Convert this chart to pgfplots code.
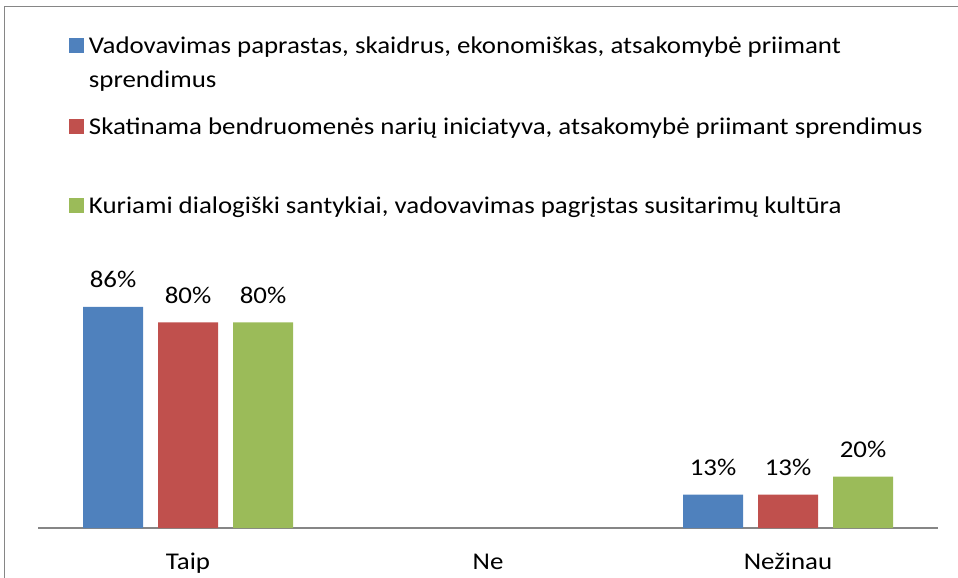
\documentclass[border=0pt]{standalone}
\usepackage{pgfplots}
\pgfplotsset{compat=1.18}
\usepackage{fontspec}
\setmainfont[FakeStretch=1.12]{Carlito}
\definecolor{cblue}{HTML}{4F81BD}
\definecolor{cred}{HTML}{C0504D}
\definecolor{cgreen}{HTML}{9BBB59}
\definecolor{framec}{HTML}{868686}
\newcommand{\fs}{\fontsize{12pt}{14pt}\selectfont}
\begin{document}
\fs
\begin{tikzpicture}
\useasboundingbox (0,0) rectangle (479pt,289pt);
\draw[framec, line width=0.75pt] (2.25pt,0) -- (2.25pt,285.75pt) -- (479pt,285.75pt);
\begin{axis}[
  at={(19pt,25pt)}, anchor=south west,
  scale only axis, width=450pt, height=128.5pt,
  xmin=-0.5, xmax=2.5, ymin=0, ymax=100,
  axis x line*=bottom, axis y line=none,
  x axis line style={framec, line width=0.75pt},
  xtick={0,1,2}, xticklabels={Taip,Ne,Nežinau},
  major tick length=0pt,
  xticklabel style={anchor=base, yshift=-20.5pt, font=\fs, text=black},
  clip=false,
  nodes near coords={\pgfmathprintnumber{\pgfplotspointmeta}\%},
  every node near coord/.append style={anchor=base, yshift=9.5pt, font=\fs, text=black},
  /pgf/number format/assume math mode=true,
  legend style={at={(0.0344,1.926)}, anchor=north west, draw=none, fill=none,
    inner sep=0pt, outer sep=0pt, row sep=0pt, column sep=2.5pt,
    cells={anchor=base west}, nodes={inner sep=0pt, text depth=0pt, font=\fs, text=black}},
]
\addplot[ybar, bar width=30pt, bar shift=0pt, fill=cblue, draw=none,
  legend image code/.code={\fill[cblue] (0pt,0pt) rectangle (7.5pt,7.5pt);}]
  coordinates {(-0.25,86) (1.75,13)};
\addlegendentry{\rule{0pt}{10pt}Vadovavimas paprastas, skaidrus, ekonomiškas, atsakomybė priimant}
\addlegendimage{empty legend}
\addlegendentry{\rule{0pt}{17pt}sprendimus}
\addplot[ybar, bar width=30pt, bar shift=0pt, fill=cred, draw=none,
  legend image code/.code={\fill[cred] (0pt,0pt) rectangle (7.5pt,7.5pt);}]
  coordinates {(0,80) (2,13)};
\addlegendentry{\rule{0pt}{23.5pt}Skatinama bendruomenės narių iniciatyva, atsakomybė priimant sprendimus}
\addplot[ybar, bar width=30pt, bar shift=0pt, fill=cgreen, draw=none,
  legend image code/.code={\fill[cgreen] (0pt,0pt) rectangle (7.5pt,7.5pt);}]
  coordinates {(0.25,80) (2.25,20)};
\addlegendentry{\rule{0pt}{39.5pt}Kuriami dialogiški santykiai, vadovavimas pagrįstas susitarimų kultūra}
\end{axis}
\end{tikzpicture}
\end{document}
